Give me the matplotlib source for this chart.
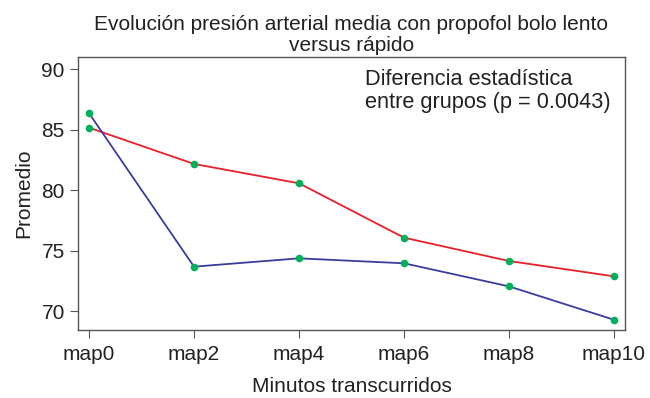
import matplotlib.pyplot as plt

plt.rcParams['font.family'] = ['Liberation Sans', 'DejaVu Sans']

minutos = ['map0', 'map2', 'map4', 'map6', 'map8', 'map10']
bolo_rapido = [86.37, 73.67, 74.36, 73.95, 72.04, 69.28]
bolo_lento = [85.17, 82.17, 80.57, 76.07, 74.14, 72.87]

txt = '#222222'
fig = plt.figure(figsize=(6.5, 3.98), dpi=100)
ax = fig.add_axes([78 / 650, 1 - 330 / 398, (625 - 78) / 650, (330 - 57) / 398])

x = range(len(minutos))
ax.plot(x, bolo_lento, color='#e8202a', lw=1.3, zorder=2)
ax.plot(x, bolo_rapido, color='#3c3c9c', lw=1.3, zorder=2)
ax.scatter(x, bolo_lento, color='#00b05a', s=30, zorder=3, linewidths=0)
ax.scatter(x, bolo_rapido, color='#00b05a', s=30, zorder=3, linewidths=0)

ax.set_xlim(-0.105, 5.105)
ax.set_ylim(68.43, 91.02)
ax.set_xticks(list(x))
ax.set_xticklabels(minutos)
ax.set_yticks([70, 75, 80, 85, 90])
ax.tick_params(labelsize=15, colors=txt, length=6, width=0.8, color='#555555')
ax.tick_params(axis='x', pad=5)
for s in ax.spines.values():
    s.set_color('#555555')
    s.set_linewidth(1.0)

ax.set_xlabel('Minutos transcurridos', fontsize=15, color=txt, labelpad=9)
ax.set_ylabel('Promedio', fontsize=15, color=txt, labelpad=6)
ax.set_title('Evolución presión arterial media con propofol bolo lento\nversus rápido',
             fontsize=15, color=txt, linespacing=1.15, pad=4)
ax.text(0.525, 0.955, 'Diferencia estadística\nentre grupos (p = 0.0043)',
        transform=ax.transAxes, fontsize=15.7, color=txt, va='top', ha='left',
        linespacing=1.1)

fig.savefig('out.png', dpi=100)
